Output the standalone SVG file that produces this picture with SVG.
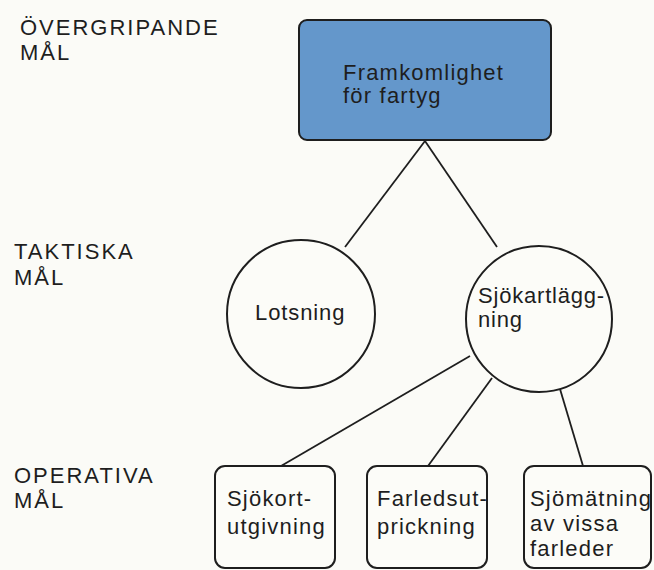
<svg xmlns="http://www.w3.org/2000/svg" width="654" height="570" viewBox="0 0 654 570">
  <defs>
    <style>
      .lbl { font-family: "Liberation Sans", Arial, sans-serif; font-size: 22px; fill: #1e1e1e; }
      .lvl { letter-spacing: 2px; }
      .nd { letter-spacing: 1.2px; }
      .box { fill: #fcfcf8; stroke: #1e1e1e; stroke-width: 2; }
      .goal { fill: #6497cb; stroke: #1e1e1e; stroke-width: 2; }
      .edge { stroke: #1e1e1e; stroke-width: 1.8; fill: none; }
    </style>
  </defs>
  <rect width="654" height="570" fill="#fbfbf7"/>

  <!-- level labels -->
  <g id="levels" class="lbl lvl">
    <text x="20" y="35">ÖVERGRIPANDE</text>
    <text x="20" y="60">MÅL</text>
    <text x="14" y="259">TAKTISKA</text>
    <text x="14" y="285">MÅL</text>
    <text x="14" y="483">OPERATIVA</text>
    <text x="14" y="508">MÅL</text>
  </g>

  <!-- connectors -->
  <g id="connectors" class="edge">
    <line x1="425" y1="141" x2="345" y2="247"/>
    <line x1="425" y1="141" x2="497" y2="247"/>
    <line x1="470" y1="356" x2="281" y2="466"/>
    <line x1="492" y1="378" x2="428" y2="466"/>
    <line x1="560" y1="389" x2="583" y2="466"/>
  </g>

  <g id="framkomlighet">
    <rect class="goal" x="299" y="20" width="252" height="120" rx="8"/>
    <text class="lbl nd" x="343" y="80">Framkomlighet</text>
    <text class="lbl nd" x="343" y="103">för fartyg</text>
  </g>

  <g id="lotsning">
    <circle class="box" cx="301" cy="314" r="74"/>
    <text class="lbl" x="255" y="320" style="letter-spacing:0.9px">Lotsning</text>
  </g>

  <g id="sjokartlaggning">
    <circle class="box" cx="539" cy="319" r="73"/>
    <text class="lbl" x="478" y="303" style="letter-spacing:0.8px">Sjökartlägg-</text>
    <text class="lbl" x="478" y="327" style="letter-spacing:0.8px">ning</text>
  </g>

  <g id="sjokortutgivning">
    <rect class="box" x="215" y="466" width="120" height="102" rx="10"/>
    <text class="lbl nd" x="227" y="506">Sjökort-</text>
    <text class="lbl nd" x="227" y="534">utgivning</text>
  </g>

  <g id="farledsutprickning">
    <rect class="box" x="367" y="466" width="120" height="102" rx="10"/>
    <text class="lbl nd" x="377" y="506">Farledsut-</text>
    <text class="lbl nd" x="377" y="534">prickning</text>
  </g>

  <g id="sjomatning">
    <rect class="box" x="524" y="466" width="127" height="102" rx="10"/>
    <text class="lbl nd" x="530" y="506">Sjömätning</text>
    <text class="lbl nd" x="530" y="531">av vissa</text>
    <text class="lbl nd" x="530" y="556">farleder</text>
  </g>
</svg>
